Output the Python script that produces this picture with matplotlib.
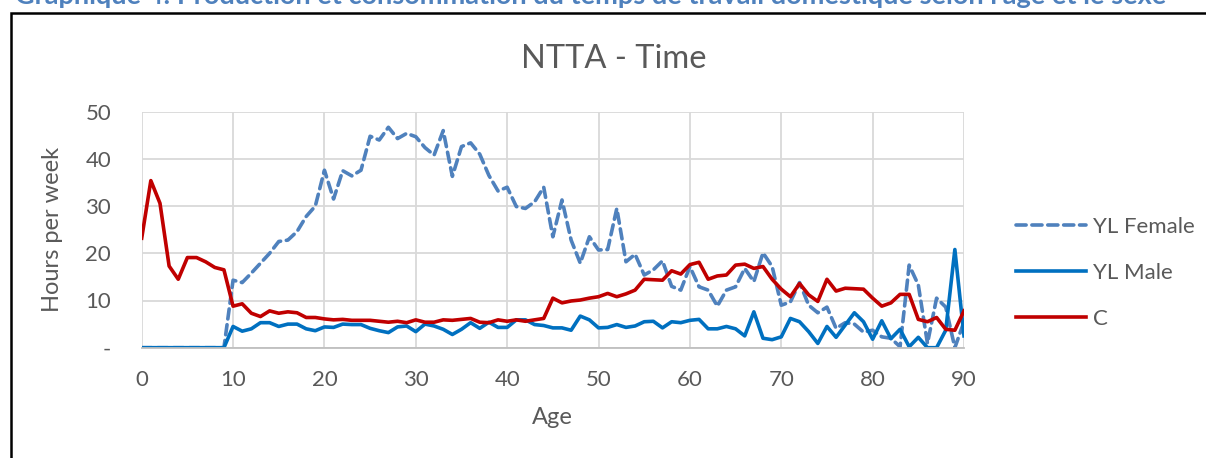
import matplotlib
matplotlib.use("Agg")
import matplotlib.pyplot as plt
from matplotlib.patches import Rectangle
import numpy as np

# data (hours per week by age)
ages = np.arange(0, 91)
yl_female = [0, 0, 0, 0, 0, 0, 0, 0, 0, 0,
             14.3, 13.8, 15.8, 17.9, 20, 22.5, 22.8, 24.6, 27.8, 30,
             37.6, 31.5, 37.5, 36.4, 37.6, 44.8, 44, 46.7, 44.3, 45.4,
             44.7, 42.4, 40.8, 46, 36.3, 42.6, 43.4, 41, 36.5, 33.2,
             34, 29.9, 29.5, 30.9, 34, 23.5, 31.3, 22.8, 17.9, 23.5,
             20.7, 20.8, 29.5, 18.2, 19.8, 15.4, 16.5, 18.4, 13, 12.2,
             17.2, 12.9, 12.2, 8.8, 12.2, 12.9, 16.8, 14, 20.1, 17.2,
             9, 9.7, 13.8, 9, 7.4, 8.6, 4.1, 5.3, 5, 3.3,
             3.7, 2.3, 2, 0.2, 17.5, 13.3, 0.9, 10.5, 8.6, 0, 5.5]
yl_male = [0, 0, 0, 0, 0, 0, 0, 0, 0, 0,
           4.5, 3.5, 4, 5.3, 5.3, 4.5, 5, 5, 4, 3.6,
           4.4, 4.3, 5, 4.9, 4.9, 4.1, 3.6, 3.2, 4.4, 4.6,
           3.4, 5, 4.6, 3.9, 2.8, 3.9, 5.3, 4.1, 5.4, 4.3,
           4.3, 5.9, 5.9, 4.9, 4.7, 4.2, 4.2, 3.7, 6.7, 5.9,
           4.2, 4.3, 4.9, 4.3, 4.6, 5.5, 5.6, 4.2, 5.5, 5.3,
           5.8, 6, 4, 4, 4.5, 4, 2.5, 7.6, 2, 1.7,
           2.3, 6.2, 5.5, 3.4, 0.9, 4.5, 2.2, 4.8, 7.4, 5.5,
           1.8, 5.7, 1.9, 3.9, 0.2, 2.2, 0, 0, 3.7, 20.8, 2.5]
consumption = [23.2, 35.4, 30.6, 17.3, 14.5, 19.1, 19.1, 18.2, 17, 16.5,
               8.8, 9.3, 7.3, 6.6, 7.8, 7.3, 7.6, 7.4, 6.4, 6.4,
               6.1, 5.9, 6, 5.8, 5.8, 5.8, 5.6, 5.4, 5.6, 5.3,
               5.9, 5.4, 5.4, 5.9, 5.8, 6, 6.2, 5.4, 5.3, 5.9,
               5.6, 5.9, 5.6, 5.9, 6.2, 10.5, 9.5, 9.9, 10.1, 10.5,
               10.8, 11.5, 10.8, 11.4, 12.2, 14.5, 14.4, 14.3, 16.3, 15.6,
               17.6, 18.1, 14.5, 15.2, 15.4, 17.5, 17.7, 16.8, 17.2, 14.5,
               12.4, 10.8, 13.6, 11.2, 9.8, 14.5, 12, 12.6, 12.5, 12.4,
               10.5, 8.8, 9.5, 11.3, 11.3, 6, 5.5, 6.4, 3.9, 3.7, 7.8]
series_names = ["YL Female", "YL Male", "C"]
x_ticks = list(range(0, 91, 10))
y_ticks = list(range(0, 51, 10))

plt.rcParams['font.family'] = ['Lato', 'DejaVu Sans']
grey = '#595959'

fig = plt.figure(figsize=(12.06, 4.58), dpi=100)

# frame around the chart (runs off the right/bottom edge like the source)
fig.patches.append(Rectangle((10.5 / 1206, -0.1), 1.2, 1 - 13.5 / 458 + 0.1,
                             transform=fig.transFigure, fill=False,
                             edgecolor='black', linewidth=1.8))

# document caption, only its lower part shows at the top edge
cap = fig.text(15 / 1206, 1 - 4 / 458,
               "Graphique 4: Production et consommation du temps de travail domestique selon l'âge et le sexe",
               color='#4F81BD', fontweight='bold', fontsize=16, va='baseline', ha='left')
fig.canvas.draw()
w = cap.get_window_extent().width
cap.set_fontsize(16 * 1155 / w)

ax = fig.add_axes([141.7 / 1206, 1 - 347.7 / 458, (964 - 141.7) / 1206, (347.7 - 111.7) / 458])

ax.plot(ages, yl_female, color='#4F81BD', lw=2.6, linestyle=(0, (2.8, 1.6)),
        dash_capstyle='round', label=series_names[0])
ax.plot(ages, yl_male, color='#0070C0', lw=2.6, label=series_names[1])
ax.plot(ages, consumption, color='#C00000', lw=2.6, label=series_names[2])

ax.set_xlim(0, 90)
ax.set_ylim(0, 50)
ax.set_xticks(x_ticks)
ax.set_yticks(y_ticks)
ax.set_yticklabels(['-' if v == 0 else str(v) for v in y_ticks])
ax.grid(True, color='#D9D9D9', lw=1.3)
ax.set_axisbelow(True)
for s in ['top', 'right', 'left']:
    ax.spines[s].set_visible(False)
ax.spines['bottom'].set_color('#BFBFBF')
ax.spines['bottom'].set_linewidth(1.3)
ax.tick_params(length=0, labelsize=16, labelcolor=grey)
ax.tick_params(axis='x', pad=16)
ax.tick_params(axis='y', pad=22)

ax.set_xlabel("Age", fontsize=17, color=grey, labelpad=12)
ax.set_ylabel("Hours per week", fontsize=17, color=grey, labelpad=16)

fig.text(614 / 1206, 1 - 59 / 458, "NTTA - Time", fontsize=23.5, color=grey,
         ha='center', va='center')

ax.legend(loc='center left', bbox_to_anchor=(1016 / 1206, 1 - 273 / 458),
          bbox_transform=fig.transFigure, borderpad=0, borderaxespad=0,
          frameon=False, fontsize=16, labelcolor=grey, handlelength=3.15,
          handletextpad=0.3, labelspacing=1.18)

fig.savefig("out.png", dpi=100)
